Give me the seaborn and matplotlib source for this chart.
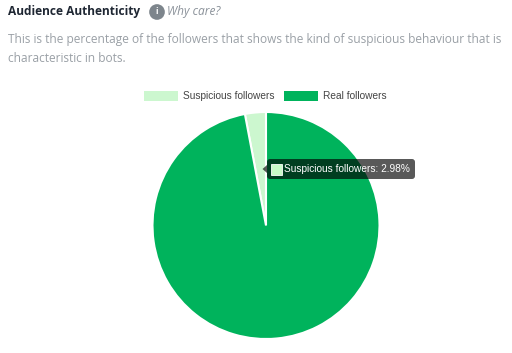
import matplotlib
matplotlib.use('Agg')
import matplotlib.pyplot as plt
from matplotlib.patches import FancyBboxPatch, Patch, Polygon, Rectangle
from matplotlib.transforms import IdentityTransform
import seaborn as sns

labels = ['Suspicious followers', 'Real followers']
values = [2.98, 97.02]
colors = ['#ccf7cf', '#00b35c']
tooltip_text = 'Suspicious followers: 2.98%'

W, H = 512, 353

sns.set_theme(style='white')
plt.rcParams['font.family'] = ['Open Sans', 'DejaVu Sans']


def fx(x):
    return x / W


def fy(y):
    return 1 - y / H


fig = plt.figure(figsize=(W / 100, H / 100), dpi=100, facecolor='white')

# header texts
fig.text(fx(8), fy(12), 'Audience Authenticity', fontsize=8.55, fontweight='bold',
         color='#1f2733', va='center')
fig.text(fx(167), fy(12), 'Why care?', fontsize=8.6, style='italic', color='#8a9199', va='center')
fig.text(fx(157), fy(12), 'i', fontsize=6, fontweight='bold', color='white', va='center', ha='center',
         zorder=5, bbox=dict(boxstyle='circle,pad=0.4', fc='#7d858c', ec='none'))
fig.text(fx(8), fy(39), 'This is the percentage of the followers that shows the kind of suspicious behaviour that is',
         fontsize=8.53, color='#9aa0a6', va='center')
fig.text(fx(8), fy(59), 'characteristic in bots.', fontsize=8.53, color='#9aa0a6', va='center')

# pie
ax = fig.add_axes([fx(152.5), fy(339), fx(227), 227 / H])
ax.pie(values, colors=colors, startangle=90, counterclock=True,
       wedgeprops=dict(edgecolor='white', linewidth=1.5))
ax.set_xlim(-1, 1)
ax.set_ylim(-1, 1)

# legend
handles = [Patch(facecolor=c, edgecolor='none', label=l) for c, l in zip(colors, labels)]
fig.legend(handles=handles, loc='center', bbox_to_anchor=(fx(265.5), fy(96)), ncols=2, frameon=False,
           prop=dict(family='Liberation Sans', size=7.25), labelcolor='#444444',
           handlelength=3.4, handleheight=1.3, handletextpad=0.5, columnspacing=0.9, borderpad=0)

# tooltip
tip_color = (0, 0, 0, 0.65)
fig.add_artist(FancyBboxPatch((267, H - 179), 148, 20, boxstyle='round,pad=0,rounding_size=3',
                              transform=IdentityTransform(), fc=tip_color, ec='none', zorder=6))
fig.add_artist(Polygon([(fx(267), fy(165)), (fx(262.5), fy(169)), (fx(267), fy(173))],
                       transform=fig.transFigure, fc=tip_color, ec='none', zorder=6))
fig.add_artist(Rectangle((fx(271), fy(174.5)), fx(11), 11 / H, transform=fig.transFigure,
                         fc='#c8fbc8', ec='white', lw=0.6, zorder=7))
fig.text(fx(283.5), fy(169), tooltip_text, fontsize=7.3, family='Liberation Sans', color='white',
         va='center', zorder=8)

fig.savefig('out.png', dpi=100)
